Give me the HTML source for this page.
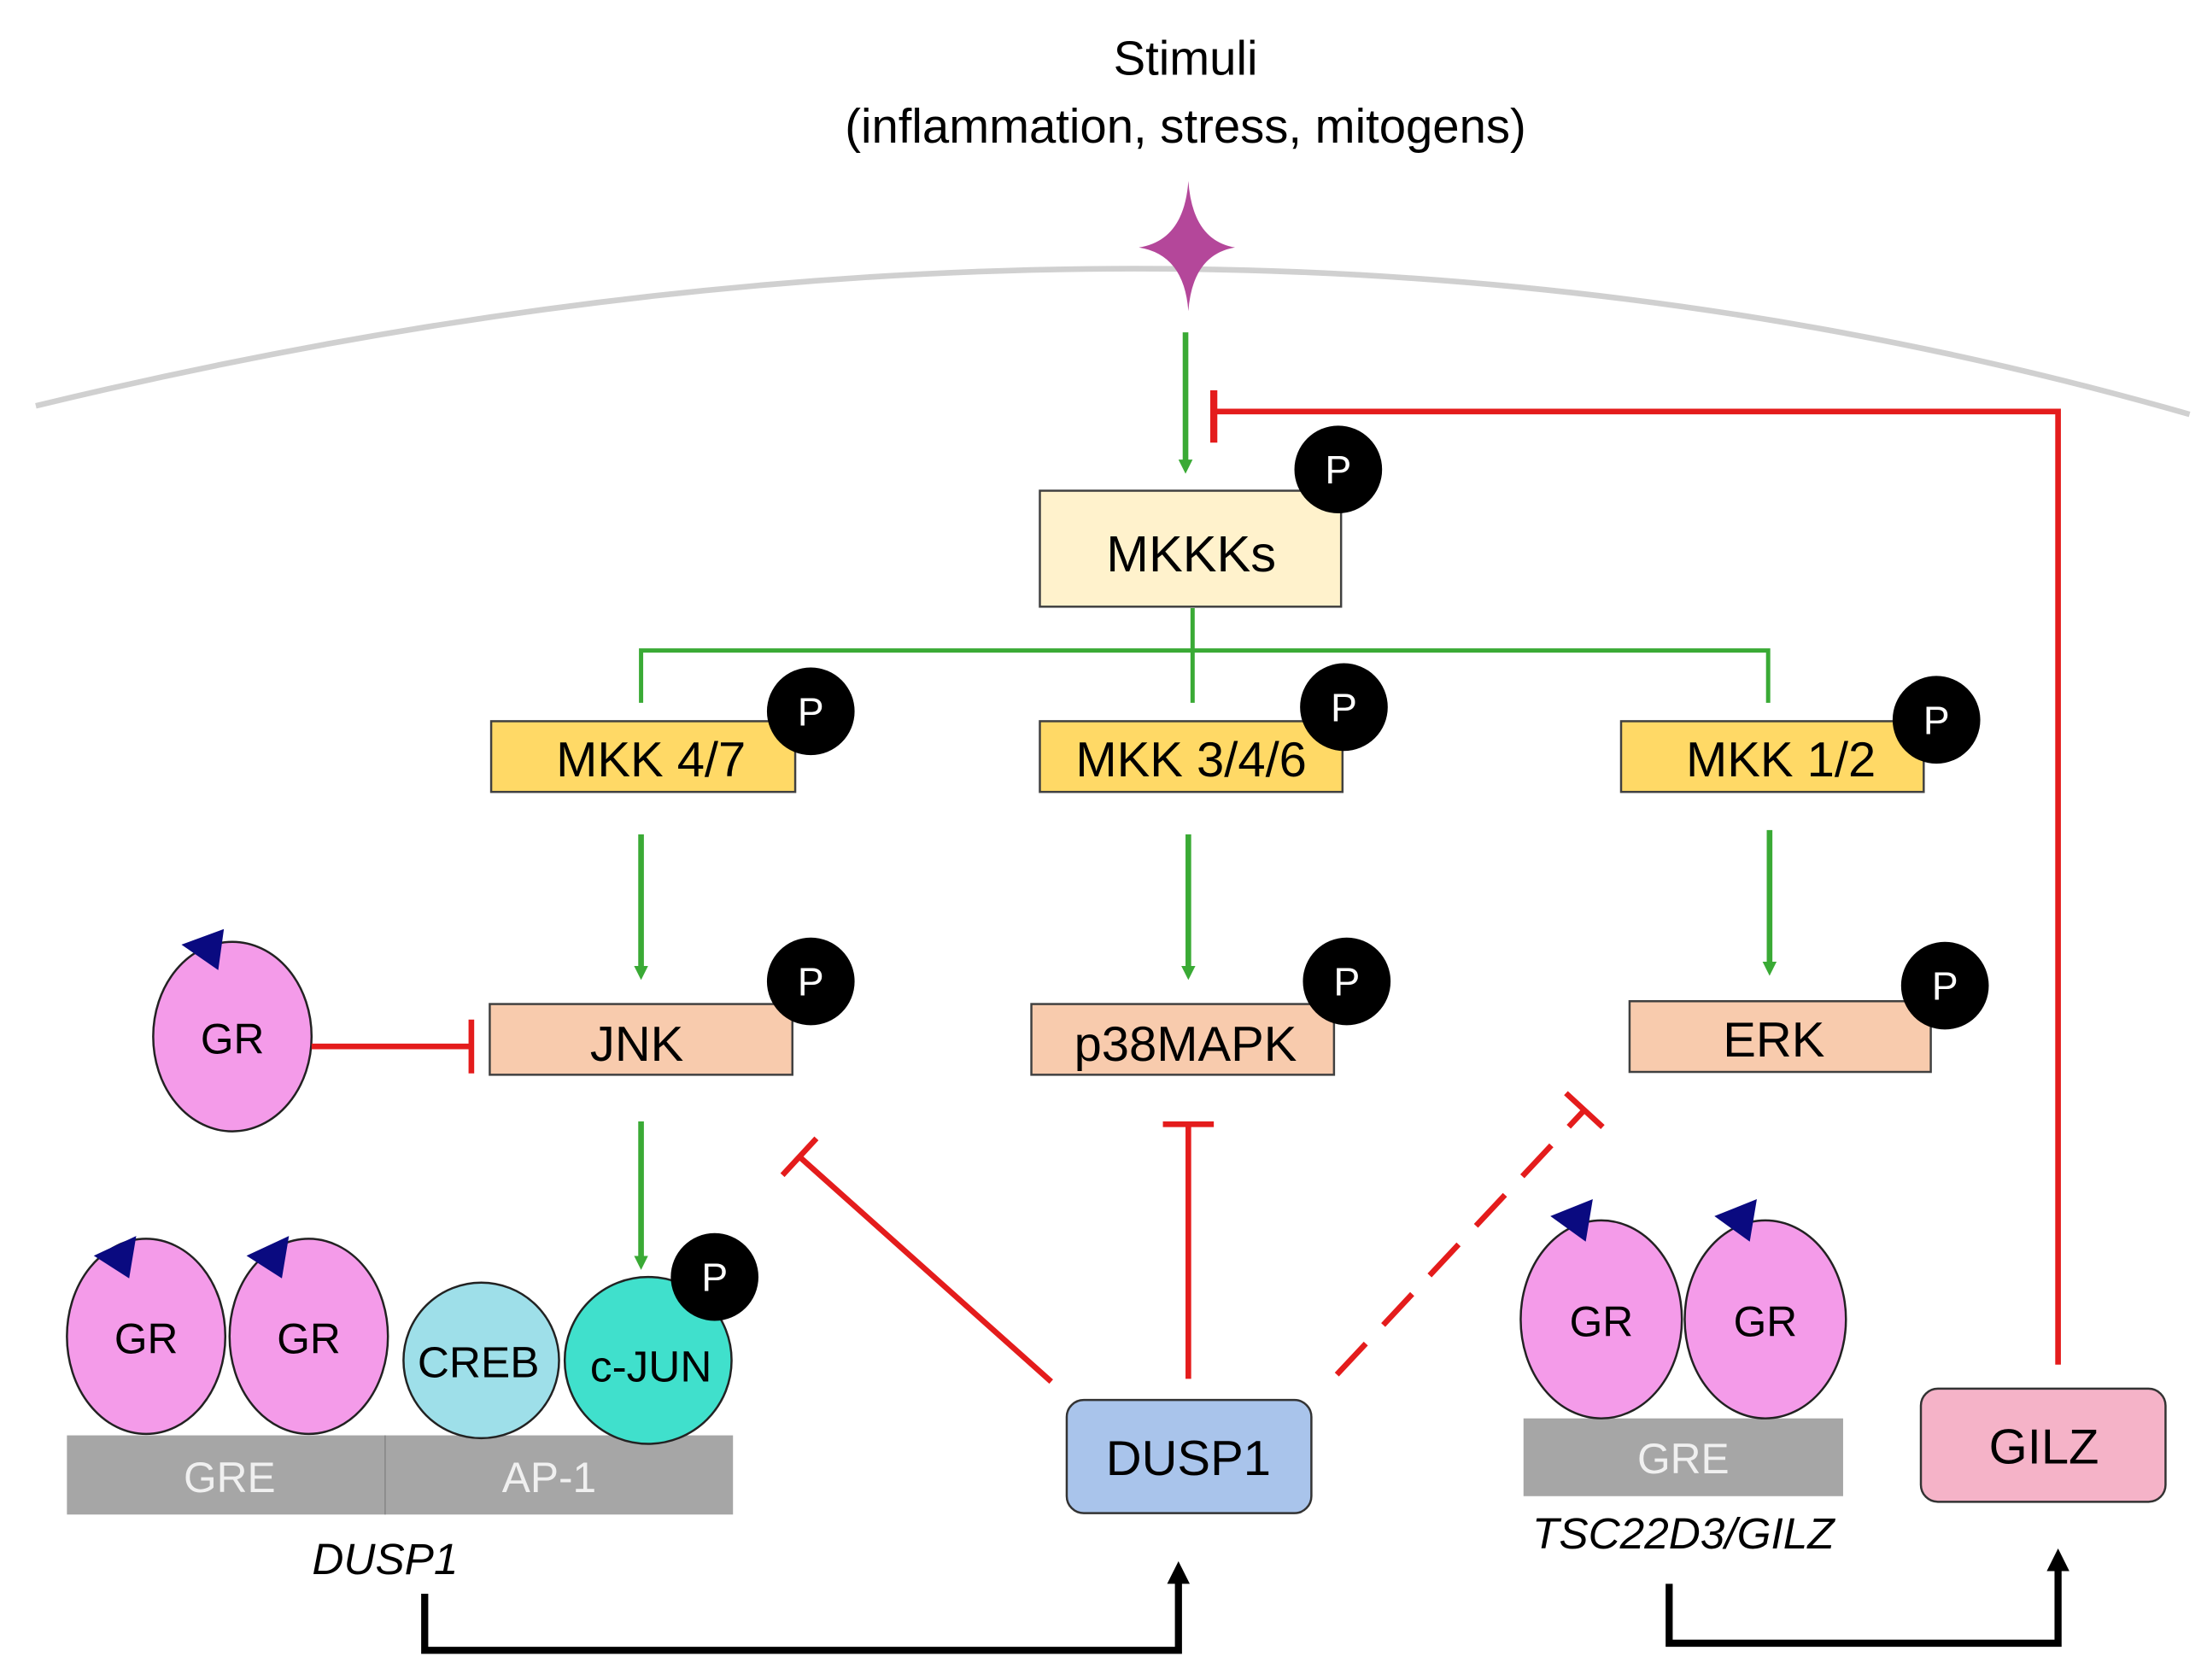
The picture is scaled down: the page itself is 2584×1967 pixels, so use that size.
<!DOCTYPE html>
<html><head><style>html,body{margin:0;padding:0;background:#fff}svg{display:block}</style></head>
<body>
<svg width="2584" height="1967" viewBox="0 0 1560 1188" xmlns="http://www.w3.org/2000/svg" font-family="Liberation Sans, sans-serif">
<defs>
<marker id="ga" markerWidth="10" markerHeight="10" refX="5" refY="5" orient="auto" markerUnits="userSpaceOnUse"><path d="M0,0 L10,5 L0,10 Z" fill="#3aaa35"/></marker>
<marker id="ba" markerWidth="16" markerHeight="16" refX="8" refY="8" orient="auto" markerUnits="userSpaceOnUse"><path d="M0,0 L16,8 L0,16 Z" fill="#000"/></marker>
</defs>
<text x="838" y="53" font-size="34" text-anchor="middle">Stimuli</text>
<text x="838" y="101" font-size="34" text-anchor="middle">(inflammation, stress, mitogens)</text>
<path d="M25,287 Q840,90 1548,293" fill="none" stroke="#d0d0d0" stroke-width="4"/>
<path d="M840,128 Q843,170 873,175 Q843,180 840,220 Q837,180 805,175 Q837,170 840,128 Z" fill="#b4479a"/>
<line x1="838" y1="235" x2="838" y2="330" stroke="#3aaa35" stroke-width="4" marker-end="url(#ga)"/>
<polyline points="1455,965 1455,291 858,291" fill="none" stroke="#e41c1c" stroke-width="4"/>
<line x1="858" y1="276" x2="858" y2="313" stroke="#e41c1c" stroke-width="5"/>
<rect x="735" y="347" width="213" height="82" fill="#fff2cc" stroke="#404040" stroke-width="1.5"/>
<text x="842" y="404" font-size="36" text-anchor="middle">MKKKs</text>
<g stroke="#3aaa35" stroke-width="3" fill="none"><polyline points="453,497 453,460 1250,460 1250,497"/><line x1="843" y1="430" x2="843" y2="497"/></g>
<g stroke="#404040" stroke-width="1.5">
<rect x="347" y="510" width="215" height="50" fill="#ffd966"/>
<rect x="735" y="510" width="214" height="50" fill="#ffd966"/>
<rect x="1146" y="510" width="214" height="50" fill="#ffd966"/>
<rect x="346" y="710" width="214" height="50" fill="#f8cbad"/>
<rect x="729" y="710" width="214" height="50" fill="#f8cbad"/>
<rect x="1152" y="708" width="213" height="50" fill="#f8cbad"/>
</g>
<g font-size="35" text-anchor="middle">
<text x="460" y="549">MKK 4/7</text><text x="842" y="549">MKK 3/4/6</text><text x="1259" y="549">MKK 1/2</text>
<text x="450" y="750">JNK</text><text x="838" y="750">p38MAPK</text><text x="1254" y="747">ERK</text>
</g>
<g stroke="#3aaa35" stroke-width="4" marker-end="url(#ga)">
<line x1="453" y1="590" x2="453" y2="688"/><line x1="840" y1="590" x2="840" y2="688"/><line x1="1251" y1="587" x2="1251" y2="685"/><line x1="453" y1="793" x2="453" y2="893"/>
</g>
<g fill="#000"><circle cx="946" cy="332" r="31"/><circle cx="573" cy="503" r="31"/><circle cx="950" cy="500" r="31"/><circle cx="1369" cy="509" r="31"/><circle cx="573" cy="694" r="31"/><circle cx="952" cy="694" r="31"/><circle cx="1375" cy="697" r="31"/></g>
<g fill="#fff" font-size="28" text-anchor="middle"><text x="946" y="342">P</text><text x="573" y="513">P</text><text x="950" y="510">P</text><text x="1369" y="519">P</text><text x="573" y="704">P</text><text x="952" y="704">P</text><text x="1375" y="707">P</text></g>
<ellipse cx="164" cy="733" rx="56" ry="67" fill="#f49be9" stroke="#222" stroke-width="1.5"/>
<path d="M128,668 L158,657 L154,686 Z" fill="#0a0a80"/>
<text x="164" y="745" font-size="30" text-anchor="middle">GR</text>
<line x1="220" y1="740" x2="333" y2="740" stroke="#e41c1c" stroke-width="4"/><line x1="333" y1="721" x2="333" y2="759" stroke="#e41c1c" stroke-width="4"/>
<rect x="47" y="1015" width="471" height="56" fill="#a6a6a6"/><line x1="272" y1="1015" x2="272" y2="1071" stroke="#888"/>
<text x="162" y="1055" font-size="30" fill="#f0f0f0" text-anchor="middle">GRE</text><text x="388" y="1055" font-size="30" fill="#f0f0f0" text-anchor="middle">AP-1</text>
<ellipse cx="103" cy="945" rx="56" ry="69" fill="#f49be9" stroke="#222" stroke-width="1.5"/>
<ellipse cx="218" cy="945" rx="56" ry="69" fill="#f49be9" stroke="#222" stroke-width="1.5"/>
<path d="M66,888 L96,874 L91,904 Z" fill="#0a0a80"/><path d="M174,888 L204,874 L199,904 Z" fill="#0a0a80"/>
<text x="103" y="957" font-size="30" text-anchor="middle">GR</text><text x="218" y="957" font-size="30" text-anchor="middle">GR</text>
<circle cx="340" cy="962" r="55" fill="#9edfe9" stroke="#222" stroke-width="1.5"/>
<circle cx="458" cy="962" r="59" fill="#40e0cc" stroke="#222" stroke-width="1.5"/>
<circle cx="505" cy="903" r="31" fill="#000"/><text x="505" y="913" font-size="28" fill="#fff" text-anchor="middle">P</text>
<text x="338" y="974" font-size="31" text-anchor="middle">CREB</text><text x="460" y="977" font-size="31" text-anchor="middle">c-JUN</text>
<text x="272" y="1113" font-size="31" font-style="italic" text-anchor="middle">DUSP1</text>
<polyline points="300,1127 300,1167 833,1167 833,1112" fill="none" stroke="#000" stroke-width="5" marker-end="url(#ba)"/>
<rect x="754" y="990" width="173" height="80" rx="12" fill="#a9c4eb" stroke="#333" stroke-width="1.5"/>
<text x="840" y="1043" font-size="35" text-anchor="middle">DUSP1</text>
<g stroke="#e41c1c" stroke-width="4">
<line x1="743" y1="977" x2="565" y2="818"/><line x1="553" y1="831" x2="577" y2="805"/>
<line x1="840" y1="975" x2="840" y2="795"/><line x1="822" y1="795" x2="858" y2="795"/>
<line x1="945" y1="972" x2="1120" y2="785" stroke-dasharray="30,18"/><line x1="1107" y1="773" x2="1133" y2="797"/>
</g>
<rect x="1077" y="1003" width="226" height="55" fill="#a6a6a6"/>
<text x="1190" y="1042" font-size="30" fill="#f0f0f0" text-anchor="middle">GRE</text>
<ellipse cx="1132" cy="933" rx="57" ry="70" fill="#f49be9" stroke="#222" stroke-width="1.5"/>
<ellipse cx="1248" cy="933" rx="57" ry="70" fill="#f49be9" stroke="#222" stroke-width="1.5"/>
<path d="M1096,860 L1126,848 L1121,878 Z" fill="#0a0a80"/><path d="M1212,860 L1242,848 L1237,878 Z" fill="#0a0a80"/>
<text x="1132" y="945" font-size="30" text-anchor="middle">GR</text><text x="1248" y="945" font-size="30" text-anchor="middle">GR</text>
<text x="1190" y="1095" font-size="31" font-style="italic" text-anchor="middle">TSC22D3/GILZ</text>
<polyline points="1180,1120 1180,1162 1455,1162 1455,1103" fill="none" stroke="#000" stroke-width="5" marker-end="url(#ba)"/>
<rect x="1358" y="982" width="173" height="80" rx="12" fill="#f5b3c8" stroke="#333" stroke-width="1.5"/>
<text x="1445" y="1035" font-size="35" text-anchor="middle">GILZ</text>
</svg>
</body></html>
